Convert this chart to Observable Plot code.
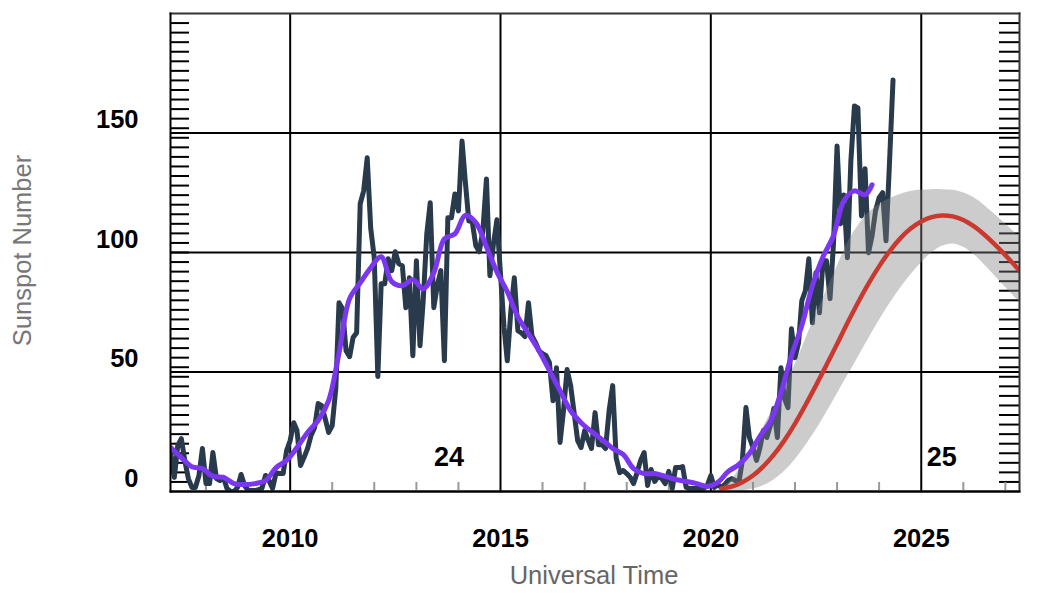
<!DOCTYPE html>
<html>
<head>
<meta charset="utf-8">
<script src="https://cdn.jsdelivr.net/npm/d3@7"></script>
<script src="https://cdn.jsdelivr.net/npm/@observablehq/plot@0.6"></script>
<style>
  html, body { margin: 0; padding: 0; background: #fff; }
  svg { display: block; }
</style>
</head>
<body>
<div id="chart"></div>
<script>
// monthly sunspot number, first value is March 2007
var observedStart = "2007-03-01";
var observed = [
  16.3, 5.9, 19.2, 22.1, 13, 5.4, 1.7, 1.7, 6.7, 18,
  3.3, 3.3, 16.3, 5.4, 4.6, 5.9, 1.3, 0, 0, 1.7,
  7.1, 2.5, 0.4, 0.4, 0.4, 0.8, 1.3, 6.7, 4.6, 1.3,
  7.9, 7.5, 7.5, 17.1, 21.3, 28.8, 25.5, 10.9, 14.2, 18,
  23.4, 26.7, 36.8, 35.9, 30.5, 24.7, 27.6, 43, 79, 76.5,
  58.9, 56.4, 64.4, 66.4, 120.4, 125.8, 139.6, 110.3, 97.8, 48.1,
  86.9, 86.9, 97.4, 92.4, 100.3, 95.3, 94.4, 76.9, 89.4, 56.8,
  96.5, 61, 79.8, 107.8, 120.8, 76.9, 86.1, 92.4, 54.7, 114.5,
  114.5, 124.5, 117.4, 146.7, 130, 113.2, 112.8, 102.8, 100.3, 109.1,
  130.8, 90.3, 103.6, 113.7, 91.1, 68.5, 54.7, 75.6, 89.4, 67.3,
  66.4, 64.8, 79, 65.2, 62.3, 58.9, 57.7, 56.8, 53.9, 38,
  51.8, 20.5, 33.8, 51, 44.3, 33, 21.3, 18.4, 25.5, 21.3,
  18, 33, 19.6, 19.6, 18, 33.8, 44.3, 14.2, 7.9, 8.8,
  7.5, 5.9, 3.3, 7.9, 13, 16.3, 2.5, 9.2, 4.2, 6.3,
  5.4, 3.3, 8.4, 1.3, 10, 10, 10.4, 1.7, 1.3, 1.3,
  1.3, 1.3, 1.3, 2.5, 6.7, 1.7, 2.9, 1.7, 2.9, 4.6,
  5.4, 4.6, 3.8, 13, 35.1, 22.6, 18.4, 13, 18, 25.5,
  22.6, 27.6, 34.7, 22.6, 51.8, 38.9, 35.1, 68.1, 56, 62.3,
  79.8, 84, 97.4, 70.6, 91.5, 74.8, 96.5, 96.5, 80.7, 103.6,
  144.6, 112, 124.1, 97.8, 138.3, 161.3, 160.5, 115.3, 135, 99.9,
  107, 117.4, 122.9, 125, 104.9, 138.3, 172.2
];

// smoothed number, read every three months from March 2007
var smoothed = [
  18.4, 14.2, 10.4, 9.6, 6.3, 5.9, 3.3, 2.9, 3.3, 4.6,
  10, 13, 18.4, 24.7, 29.7, 38, 58, 80.7, 87.3, 93.6,
  98.2, 87.8, 86.1, 88.6, 84.8, 91.5, 105.7, 107.8, 115.5, 112.5,
  102.4, 91.9, 83.6, 73.1, 66, 58.9, 50.6, 42.2, 33.8, 28.8,
  25.1, 21.7, 18, 15.5, 9.6, 7.5, 7.5, 6.3, 5, 4.2,
  3.3, 2.1, 3.8, 8.4, 11.3, 15.9, 23, 29.3, 41.4, 56.8,
  69.4, 86.1, 98.2, 107, 121.6, 125.8, 124.1
];
var smoothedLast = { date: "2023-11-01", value: 128.3 };

// cycle 25 prediction, every three months from April 2020
var predictedStart = "2020-04-01";
var predicted = [
  1.3, 2.1, 3.9, 6.7, 10.5, 15.4, 21.4, 28.4, 36.1, 44.3,
  52.9, 61.7, 70.5, 79, 87, 94.2, 100.5, 105.8, 110, 113,
  114.8, 115.5, 115.1, 113.6, 111, 107.5, 103.4, 98.9, 94.2, 89.4
];
var predictedHigh = [
  1.3, 5, 11.5, 19, 27, 35, 43.5, 53, 63.5, 74,
  84, 94, 104, 111, 116.5, 120, 122.5, 124.3, 125.5, 126.1,
  126.3, 126.3, 126, 125, 123, 119.8, 116, 112, 108, 104
];
var predictedLow = [
  0, 0, 0.3, 1, 2.4, 4.8, 8.4, 13.2, 19, 25.6,
  33, 40.7, 48.3, 56, 63.8, 71.4, 78.4, 84.8, 90.6, 95.6,
  99.8, 102.6, 103.6, 102.3, 99.3, 95, 90.3, 85.5, 80.9, 76.5
];

var yLabels = [0, 50, 100, 150];
var yMinor = d3.range(4, 200, 4);
var xLabels = [2010, 2015, 2020, 2025].map((y) => new Date(Date.UTC(y, 0, 1)));
var xMinor = d3.range(2008, 2028).filter((y) => y % 5 != 0).map((y) => new Date(Date.UTC(y, 0, 1)));
var cycles = [
  { date: "2013-10-10", value: 14.2, label: "24" },
  { date: "2025-06-28", value: 14.2, label: "25" },
];

var observedData = observed.map((v, i) => ({
  date: d3.utcMonth.offset(new Date(observedStart), i),
  value: v,
}));
var smoothedData = smoothed.map((v, i) => ({
  date: d3.utcMonth.offset(new Date(observedStart), i * 3),
  value: v,
}));
smoothedData.push({ date: new Date(smoothedLast.date), value: smoothedLast.value });
var predictedData = predicted.map((v, i) => ({
  date: d3.utcMonth.offset(new Date(predictedStart), i * 3),
  value: v,
  high: predictedHigh[i],
  low: predictedLow[i],
}));

var plot = Plot.plot({
  width: 1041,
  height: 598,
  marginLeft: 170,
  marginRight: 22,
  marginTop: 13,
  marginBottom: 107,
  style: { background: "#fff", fontFamily: "'Liberation Sans', Arial, sans-serif" },
  x: {
    type: "utc",
    domain: [new Date(Date.UTC(2007, 1, 27)), new Date(Date.UTC(2027, 4, 4))],
  },
  y: { domain: [0, 200] },
  marks: [
    Plot.gridX(xLabels, { stroke: "#000", strokeOpacity: 1, strokeWidth: 2 }),
    Plot.gridY(yLabels, { stroke: "#000", strokeOpacity: 1, strokeWidth: 2 }),
    Plot.tickY(yMinor, { stroke: "#000", strokeWidth: 2, insetRight: 830 }),
    Plot.tickY(yMinor, { stroke: "#000", strokeWidth: 2, insetLeft: 829 }),
    Plot.tickX(xMinor, { stroke: "#999", strokeWidth: 2, insetTop: 469 }),
    Plot.lineY(observedData, {
      x: "date",
      y: "value",
      stroke: "#283a4c",
      strokeWidth: 5,
      clip: true,
    }),
    Plot.areaY(predictedData, {
      x: "date",
      y1: "low",
      y2: "high",
      fill: "#808080",
      fillOpacity: 0.4,
      curve: "catmull-rom",
      clip: true,
    }),
    Plot.lineY(predictedData, {
      x: "date",
      y: "value",
      stroke: "#c9392f",
      strokeWidth: 4.5,
      curve: "catmull-rom",
      clip: true,
    }),
    Plot.lineY(smoothedData, {
      x: "date",
      y: "value",
      stroke: "#7b36f0",
      strokeWidth: 5,
      curve: "catmull-rom",
      clip: true,
    }),
    Plot.text(cycles, {
      x: (d) => new Date(d.date),
      y: "value",
      text: "label",
      fontSize: 27,
      fontWeight: "bold",
      fill: "#000",
    }),
    Plot.frame({ anchor: "top", stroke: "#333", strokeWidth: 2 }),
    Plot.frame({ anchor: "right", stroke: "#333", strokeWidth: 2 }),
    Plot.frame({ anchor: "left", stroke: "#000", strokeWidth: 2 }),
    Plot.frame({ anchor: "bottom", stroke: "#000", strokeWidth: 2 }),
    Plot.axisX(xLabels, {
      tickSize: 0,
      tickPadding: 37,
      tickFormat: "%Y",
      fontSize: 25.5,
      fontWeight: "bold",
      fill: "#000",
      label: null,
    }),
    Plot.axisY(yLabels, {
      tickSize: 0,
      tickPadding: 32,
      dy: -13,
      fontSize: 25.5,
      fontWeight: "bold",
      fill: "#000",
      label: null,
    }),
    Plot.text(["Universal Time"], {
      frameAnchor: "bottom",
      dy: 92,
      dx: -1,
      fontSize: 25.5,
      fill: "#666",
    }),
    Plot.text(["Sunspot Number"], {
      frameAnchor: "left",
      textAnchor: "middle",
      rotate: -90,
      dx: -148,
      dy: -2,
      fontSize: 25.5,
      fill: "#777",
    }),
  ],
});
document.getElementById("chart").append(plot);
</script>
</body>
</html>
